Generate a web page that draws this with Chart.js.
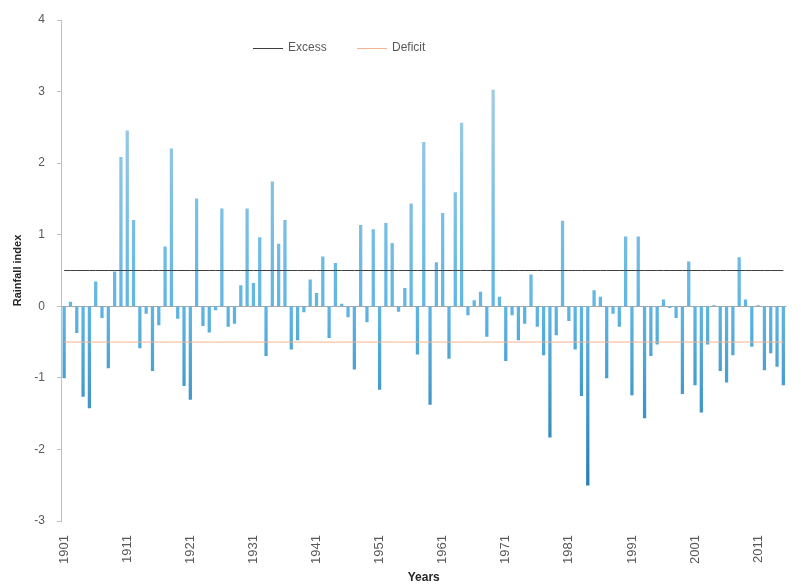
<!DOCTYPE html>
<html>
<head>
<meta charset="utf-8">
<title>Rainfall index</title>
<script src="https://cdn.jsdelivr.net/npm/chart.js@4"></script>
<style>
  html, body { margin: 0; padding: 0; background: #ffffff; }
  #wrap { width: 801px; height: 587px; }
</style>
</head>
<body>
<div id="wrap"><canvas id="rainChart"></canvas></div>
<script>
// yearly rainfall index, 1901 - 2015
const firstYear = 1901;
const rainfallIndex = [
  -1.00, 0.06, -0.37, -1.26, -1.42, 0.34, -0.16, -0.86, 0.48, 2.08,   // 1901-1910
   2.45, 1.20, -0.58, -0.10, -0.90, -0.26, 0.83, 2.20, -0.17, -1.11,  // 1911-1920
  -1.30, 1.50, -0.27, -0.36, -0.05, 1.36, -0.28, -0.24, 0.29, 1.36,   // 1921-1930
   0.32, 0.96, -0.69, 1.74, 0.87, 1.20, -0.60, -0.47, -0.08, 0.37,    // 1931-1940
   0.18, 0.69, -0.44, 0.60, 0.03, -0.15, -0.88, 1.13, -0.22, 1.07,    // 1941-1950
  -1.16, 1.16, 0.88, -0.07, 0.25, 1.43, -0.67, 2.29, -1.37, 0.61,     // 1951-1960
   1.30, -0.73, 1.59, 2.56, -0.12, 0.08, 0.20, -0.42, 3.02, 0.13,     // 1961-1970
  -0.76, -0.12, -0.47, -0.24, 0.44, -0.28, -0.68, -1.83, -0.40, 1.19, // 1971-1980
  -0.20, -0.60, -1.25, -2.50, 0.22, 0.13, -1.00, -0.10, -0.28, 0.97,  // 1981-1990
  -1.24, 0.97, -1.56, -0.69, -0.53, 0.09, -0.02, -0.16, -1.22, 0.62,  // 1991-2000
  -1.10, -1.48, -0.53, 0.01, -0.90, -1.06, -0.68, 0.68, 0.09, -0.56,  // 2001-2010
   0.01, -0.89, -0.65, -0.84, -1.10                                   // 2011-2015
];
const years = rainfallIndex.map((v, i) => String(firstYear + i));

// threshold lines
const excessLevel = 0.5;
const deficitLevel = -0.5;

// y axis range
const yMin = -3;
const yMax = 4;

const textFont = "'Liberation Sans', Arial, sans-serif";

// gradient for the bars, light at the top, darker at the bottom
function barFill(context) {
    const chart = context.chart;
    const area = chart.chartArea;
    if (!area) return '#4aa6da';
    const g = chart.ctx.createLinearGradient(0, area.top, 0, area.bottom);
    g.addColorStop(0, '#b9d4e6');
    g.addColorStop(0.57, '#5fb6e4');
    g.addColorStop(1, '#1c72a6');
    return g;
}

// legend sits inside the plot, drawn by hand
const insideLegend = {
    id: 'insideLegend',
    afterDraw(chart) {
        const ctx = chart.ctx;
        const spots = [{ ds: 1, x: 253 }, { ds: 2, x: 357 }];
        const y = 48;
        ctx.save();
        ctx.font = '12px ' + textFont;
        ctx.textBaseline = 'middle';
        spots.forEach((s) => {
            const ds = chart.data.datasets[s.ds];
            ctx.strokeStyle = ds.borderColor;
            ctx.lineWidth = 1;
            ctx.beginPath();
            ctx.moveTo(s.x, y + 0.5);
            ctx.lineTo(s.x + 30, y + 0.5);
            ctx.stroke();
            ctx.fillStyle = '#595959';
            ctx.fillText(ds.label, s.x + 35, y);
        });
        ctx.restore();
    }
};

const ctx = document.getElementById('rainChart').getContext('2d');

new Chart(ctx, {
    type: 'bar',
    data: {
        labels: years,
        datasets: [
            {
                label: 'Rainfall index',
                data: rainfallIndex,
                backgroundColor: barFill,
                barThickness: 2.6,
                order: 2
            },
            {
                type: 'line',
                label: 'Excess',
                data: years.map(() => excessLevel),
                borderColor: '#3f3f3f',
                borderWidth: 1,
                pointRadius: 0,
                order: 1
            },
            {
                type: 'line',
                label: 'Deficit',
                data: years.map(() => deficitLevel),
                borderColor: '#f3b48f',
                borderWidth: 1,
                pointRadius: 0,
                order: 1
            }
        ]
    },
    options: {
        responsive: true,
        maintainAspectRatio: false,
        devicePixelRatio: 1,
        animation: false,
        layout: {
            padding: { left: 6, right: 14.5, top: 20, bottom: 0 }
        },
        plugins: {
            legend: { display: false },
            tooltip: { enabled: false }
        },
        scales: {
            x: {
                grid: { display: false },
                border: { display: false },
                ticks: {
                    autoSkip: false,
                    minRotation: 90,
                    maxRotation: 90,
                    padding: 6,
                    color: '#595959',
                    font: { family: textFont, size: 13 },
                    callback: function (value, index) {
                        return index % 10 === 0 ? this.getLabelForValue(value) : '';
                    }
                },
                title: {
                    display: true,
                    text: 'Years',
                    color: '#262626',
                    font: { family: textFont, size: 12, weight: 'bold' },
                    padding: { top: 2, bottom: 2 }
                },
                afterFit: (axis) => {
                    axis.height = 66;
                    axis.paddingLeft = 0;
                    axis.paddingRight = 0;
                }
            },
            y: {
                min: yMin,
                max: yMax,
                ticks: {
                    stepSize: 1,
                    padding: 12,
                    color: '#595959',
                    font: { family: textFont, size: 12 }
                },
                grid: {
                    drawOnChartArea: true,
                    drawTicks: true,
                    tickLength: 4,
                    tickColor: '#bfbfbf',
                    color: (c) => (c.tick && c.tick.value === 0 ? '#a6a6a6' : 'rgba(0,0,0,0)')
                },
                border: { display: true, color: '#bfbfbf' },
                title: {
                    display: true,
                    text: 'Rainfall index',
                    color: '#262626',
                    font: { family: textFont, size: 11, weight: 'bold' },
                    padding: { top: 5, bottom: 2 }
                },
                afterFit: (axis) => { axis.width = 55; }
            }
        }
    },
    plugins: [insideLegend]
});
</script>
</body>
</html>
